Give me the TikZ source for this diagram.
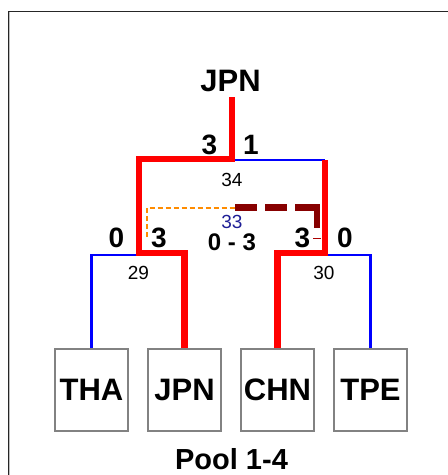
\documentclass[tikz,border=0pt]{standalone}
\usepackage{fontspec}
\setmainfont{Liberation Sans}
\definecolor{winred}{RGB}{255,0,0}
\definecolor{loseblue}{RGB}{0,0,255}
\definecolor{darkred}{RGB}{135,0,0}
\definecolor{matchnum}{RGB}{30,30,150}
\definecolor{dorange}{RGB}{255,140,0}
\definecolor{boxgray}{RGB}{130,130,130}
\tikzset{
  team/.style={draw=boxgray, line width=1.8pt, minimum width=73pt, minimum height=82pt, inner sep=0pt, font=\fontsize{31}{31}\selectfont\bfseries},
  win/.style={draw=winred, line width=6.5pt, line join=miter},
  lose/.style={draw=loseblue, line width=2.2pt},
  score/.style={inner sep=0pt, font=\fontsize{28}{28}\selectfont\bfseries},
  mnum/.style={inner sep=0pt, font=\fontsize{19}{19}\selectfont},
  pendline/.style={draw=dorange, line width=2pt, dash pattern=on 5pt off 3pt},
  oddline/.style={draw=darkred, line width=6.5pt, line join=miter, dash pattern=on 22pt off 8pt on 22pt off 8pt on 45pt off 100pt}
}
\begin{document}
\begin{tikzpicture}[x=1pt,y=-1pt]
\useasboundingbox (0,0) rectangle (448,475);
\fill[white] (0,0) rectangle (448,475);
% frame
\draw[black!85, line width=1pt] (8,475) -- (8,11) -- (448,11);
\draw[black!25, line width=0.8pt] (9.6,12) -- (9.6,475);
% teams
\node[team] (tha) at (91.5,390) {THA};
\node[team] (jpn) at (184.5,390) {JPN};
\node[team] (chn) at (277.5,390) {CHN};
\node[team] (tpe) at (370.5,390) {TPE};
\node[inner sep=0pt, font=\fontsize{29}{29}\selectfont\bfseries] (pool) at (231.5,459.5) {Pool 1-4};
\node[inner sep=0pt, font=\fontsize{31}{31}\selectfont\bfseries] (champ) at (230.5,81) {JPN};
% junction coordinates
\coordinate (b29) at (139,255);
\coordinate (c29) at (139,253);
\coordinate (c34L) at (139,159);
\coordinate (c34) at (232,159);
\coordinate (b34) at (232,160);
\coordinate (b34R) at (325,160);
\coordinate (c30) at (325,253);
\coordinate (b30) at (325,255);
\coordinate (ctop) at (232,97);
% losers
\draw[lose] (tha.north) |- (b29);
\draw[lose] (tpe.north) |- (b30);
\draw[lose] (b34) -- (b34R);
% winners
\draw[win] (jpn.north) |- (c29) -- (c34L) -- (c34) -- (ctop);
\draw[win] (chn.north) |- (c30) -- (b34R);
% match 33 (third place)
\coordinate (o1) at (147,237);
\coordinate (o2) at (147,207.5);
\coordinate (o3) at (235,207.5);
\coordinate (d1) at (317,207.5);
\coordinate (d2) at (317,228);
\draw[pendline] (o1) -- (o2) -- (o3);
\draw[oddline] (o3) -- (d1) -- (d2);
\coordinate (t1) at (313,238);
\coordinate (t2) at (321,238);
\draw[darkred!70!red, line width=0.8pt] (t1) -- (t2);
% scores and labels
\node[score] (s34a) at (209.5,145) {3};
\node[score] (s34b) at (251,145) {1};
\node[mnum] (m34) at (232,179.5) {34};
\node[mnum, text=matchnum] (m33) at (232,221.5) {33};
\node[inner sep=0pt, font=\fontsize{24}{24}\selectfont\bfseries] (r33) at (232,242.5) {0 - 3};
\node[score] (s29a) at (116.5,238) {0};
\node[score] (s29b) at (159,238) {3};
\node[score] (s30a) at (302.5,238) {3};
\node[score] (s30b) at (345,238) {0};
\node[mnum] (m29) at (138.5,272.5) {29};
\node[mnum] (m30) at (324,272.5) {30};
\end{tikzpicture}
\end{document}
